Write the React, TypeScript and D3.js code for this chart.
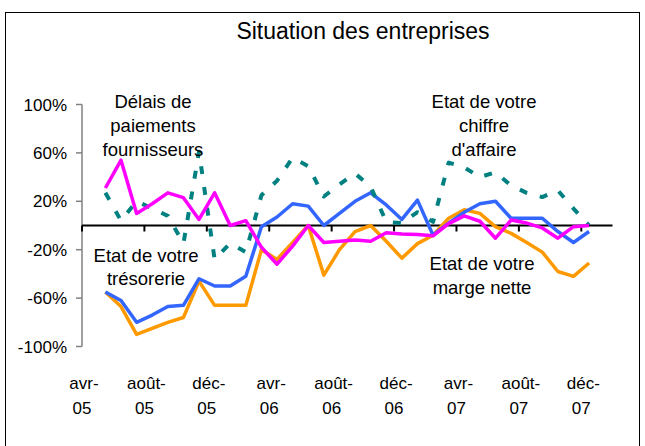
import React from "react";
import * as d3 from "d3";

// ---- data ----
const tickLabels = ["avr-05", "août-05", "déc-05", "avr-06", "août-06", "déc-06", "avr-07", "août-07", "déc-07"];
const dataMonths = [
  "mai-05", "juin-05", "juil-05", "août-05", "sept-05", "oct-05", "nov-05", "déc-05",
  "janv-06", "févr-06", "mars-06", "avr-06", "mai-06", "juin-06", "juil-06", "août-06",
  "sept-06", "oct-06", "nov-06", "déc-06", "janv-07", "févr-07", "mars-07", "avr-07",
  "mai-07", "juin-07", "juil-07", "août-07", "sept-07", "oct-07", "nov-07", "déc-07",
];
const delaisFournisseurs = [31, 54, 10, 18, 27, 23, 5, 27, 0, 4, -18, -32, -17, 0, -14, -13, -12, -13, -6, -7, -7.5, -8.5, 1.5, 8, 3.5, -10.5, 4.5, 2, -2, -10.5, -1, 0];
const tresorerie = [-55, -62, -80, -74, -67, -66, -44, -50, -50, -42, -1, 7, 18, 16, 0, 10, 20, 27, 17, 5, 21, -8, 2, 11, 18, 20, 6, 6, 6, -5, -14, -5];
const margeNette = [-55, -67, -90, -85, -80, -76, -46, -66, -66, -66, -20, -28, -14, 0, -41, -20, -5, 0, -13, -27, -15, -8, 6, 13, 10, -1, -6.5, -14, -22, -38, -42, -31];
const chiffreAffaire = [27, 4, 20, 14, 8, -15, 61, -28, -14.5, -22, 25, 37, 56, 49, 24, 34, 43, 32, 3, 2, 11, 3, 52, 48, 40, 44, 33, 27, 23.5, 29, 14, 0];
const yTicks = [100, 60, 20, -20, -60, -100];
const axisMonthCount = 34; // avr-05 .. janv-08
const firstDataMonth = 1; // mai-05

const W = 645;
const H = 446;
const FONT = "'Liberation Sans', Arial, sans-serif";

export default function App() {
  const x = d3.scaleLinear().domain([0, axisMonthCount]).range([82, 612.5]);
  const y = d3.scaleLinear().domain([-100, 100]).range([346.5, 104.5]);
  const xData = (i: number) => x(firstDataMonth + i + 0.5);
  const line = d3
    .line<number>()
    .x((_, i) => xData(i))
    .y((d) => y(d));

  const tickIdx = tickLabels.map((_, k) => k * 4);

  return (
    <svg
      width={W}
      height={H}
      style={{ position: "absolute", left: 0, top: 0, background: "#fff" }}
      fontFamily={FONT}
    >
      <rect x={0} y={0} width={W} height={H} fill="#fff" />
      <rect x={5.5} y={12.5} width={634} height={445} fill="none" stroke="#000" strokeWidth={1} />
      <text x={363} y={39} textAnchor="middle" fontSize={23} fill="#000">
        Situation des entreprises
      </text>

      {/* y axis */}
      <line x1={82} x2={82} y1={y(100)} y2={y(-100)} stroke="#808080" strokeWidth={1.5} />
      {yTicks.map((t) => (
        <g key={t}>
          <line x1={76} x2={82} y1={y(t)} y2={y(t)} stroke="#808080" strokeWidth={1.5} />
          <text x={67} y={y(t)} dy="0.36em" textAnchor="end" fontSize={17} fill="#000">
            {t}%
          </text>
        </g>
      ))}

      {/* x axis at 0 */}
      <line x1={x(0)} x2={x(axisMonthCount)} y1={y(0)} y2={y(0)} stroke="#000" strokeWidth={2} />
      {tickIdx.map((m, k) => (
        <g key={m}>
          <line x1={x(m)} x2={x(m)} y1={y(0)} y2={y(0) + 6} stroke="#000" strokeWidth={2} />
          <text x={x(m) + 2} y={389} textAnchor="middle" fontSize={17} fill="#000">
            {tickLabels[k].split("-")[0]}-
          </text>
          <text x={x(m)} y={414} textAnchor="middle" fontSize={17} fill="#000">
            {tickLabels[k].split("-")[1]}
          </text>
        </g>
      ))}

      {/* series */}
      <path d={line(margeNette) || ""} fill="none" stroke="#FF9900" strokeWidth={3.5} strokeLinejoin="round" />
      <path d={line(tresorerie) || ""} fill="none" stroke="#3366FF" strokeWidth={3.5} strokeLinejoin="round" />
      <path
        d={line(chiffreAffaire) || ""}
        fill="none"
        stroke="#008080"
        strokeWidth={4}
        strokeDasharray="8,13"
        strokeLinejoin="round"
      />
      <path d={line(delaisFournisseurs) || ""} fill="none" stroke="#FF00FF" strokeWidth={3.5} strokeLinejoin="round" />

      {/* annotations */}
      <g fontSize={18.5} fill="#000" textAnchor="middle">
        <text x={153} y={108}>Délais de</text>
        <text x={153} y={132}>paiements</text>
        <text x={153} y={156}>fournisseurs</text>
        <text x={146} y={262}>Etat de votre</text>
        <text x={146} y={285}>trésorerie</text>
        <text x={484} y={108}>Etat de votre</text>
        <text x={484} y={132}>chiffre</text>
        <text x={484} y={156}>d'affaire</text>
        <text x={482} y={270}>Etat de votre</text>
        <text x={482} y={294}>marge nette</text>
      </g>
    </svg>
  );
}
